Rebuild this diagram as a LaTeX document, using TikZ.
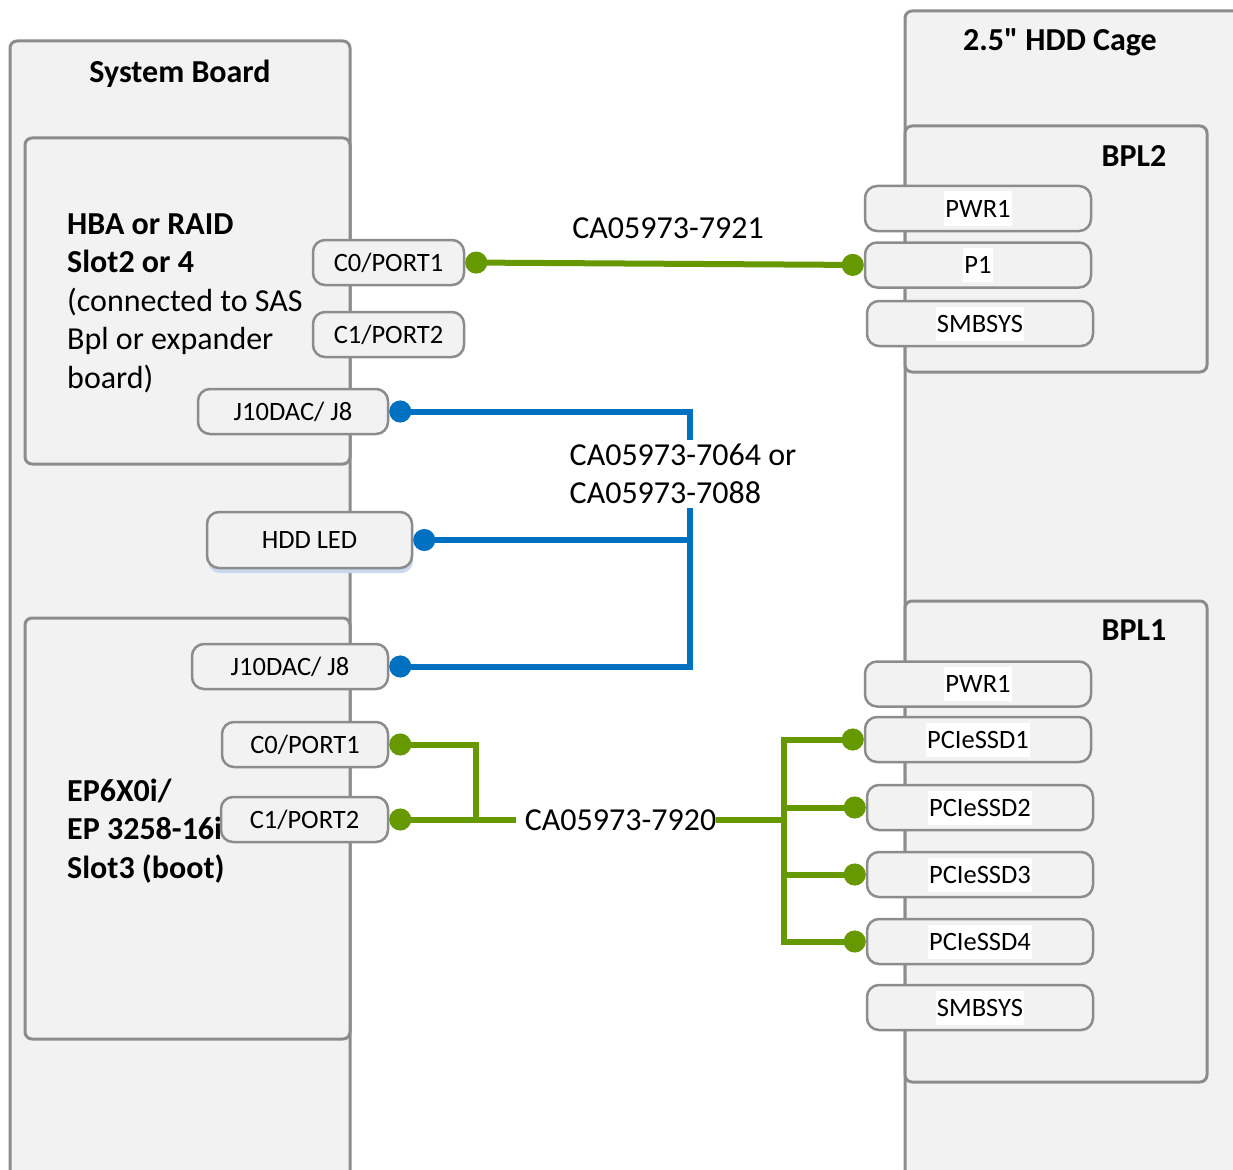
\documentclass[tikz,border=0pt]{standalone}
\usepackage{fontspec}
\newfontfamily\calibri{Carlito}
\usetikzlibrary{arrows.meta, positioning, shadows}

\definecolor{boxgray}{HTML}{F2F2F2}
\definecolor{edgegray}{HTML}{8C8C8C}
\definecolor{cablegreen}{HTML}{669900}
\definecolor{cableblue}{HTML}{0070C0}
\definecolor{shadowblue}{HTML}{C9D8EC}

\newcommand{\bigtext}{\calibri\fontsize{32}{38.5}\selectfont}
\newcommand{\porttext}{\calibri\fontsize{26.5}{32}\selectfont}
\newcommand{\onwhite}[1]{{\setlength{\fboxsep}{1pt}\colorbox{white}{\rule[-7.5pt]{0pt}{32pt}#1}}}

\tikzstyle{board} = [draw=edgegray, fill=boxgray, line width=3pt, rounded corners=7pt, inner sep=0pt]
\tikzstyle{port} = [draw=edgegray, fill=boxgray, line width=2.5pt, rounded corners=12pt, minimum height=45pt, inner sep=0pt, font=\porttext]
\tikzstyle{heading} = [font=\bigtext\bfseries]
\tikzstyle{greencable} = [line width=6pt, draw=cablegreen]
\tikzstyle{bluecable} = [line width=6pt, draw=cableblue]
\tikzstyle{cabletag} = [font=\bigtext, fill=white, inner sep=2pt]

\begin{document}
\begin{tikzpicture}[x=1pt, y=-1pt, >={Circle[length=22pt]}]
    \useasboundingbox (0,0) rectangle (1233,1169);

    % boards
    \node[board, minimum width=340pt, minimum height=1159pt] (sysboard) at (180,620.5) {};
    \node[board, minimum width=325pt, minimum height=326pt] (hba) at (187.5,301) {};
    \node[board, minimum width=325pt, minimum height=421pt] (ep) at (187.5,828.5) {};
    \node[board, minimum width=355pt, minimum height=1189pt] (cage) at (1082.5,605.5) {};
    \node[board, minimum width=302pt, minimum height=246pt] (bpl2) at (1056,249) {};
    \node[board, minimum width=302pt, minimum height=481pt] (bpl1) at (1056,841.5) {};

    \node[heading] (sysname) at (180,74) {System Board};
    \node[heading] (cagename) at (1060,42) {2.5" HDD Cage};
    \node[heading] (bpl2name) at (1134,156) {BPL2};
    \node[heading] (bpl1name) at (1134,630) {BPL1};
    \node[font=\bigtext, align=left, anchor=west, inner sep=0pt] (hbatext) at (67,303) {\textbf{HBA or RAID}\\\textbf{Slot2 or 4}\\(connected to SAS\\Bpl or expander\\board)};
    \node[font=\bigtext\bfseries, align=left, anchor=west, inner sep=0pt] (eptext) at (67,831) {EP6X0i/\\EP 3258-16i\\Slot3 (boot)};

    % connectors on the system board
    \node[port, minimum width=151pt] (hbac0) at (388.5,262.5) {C0/PORT1};
    \node[port, minimum width=151pt] (hbac1) at (388.5,334.5) {C1/PORT2};
    \node[port, minimum width=190pt] (hbaj8) at (293,411.5) {J10DAC/ J8};
    \node[port, minimum width=205pt, minimum height=56pt, drop shadow={shadow xshift=1pt, shadow yshift=-5pt, fill=shadowblue, opacity=1}] (hddled) at (309.5,540) {HDD LED};
    \node[port, minimum width=196pt] (epj8) at (290,666.5) {J10DAC/ J8};
    \node[port, minimum width=166pt] (epc0) at (305,744.5) {C0/PORT1};
    \node[port, minimum width=167pt] (epc1) at (304.5,819.5) {C1/PORT2};

    % connectors on the backplanes
    \node[port, minimum width=226pt] (b2pwr) at (978,208.5) {\onwhite{PWR1}};
    \node[port, minimum width=226pt] (b2p1) at (978,265) {\onwhite{P1}};
    \node[port, minimum width=226pt] (b2smb) at (980,323.5) {\onwhite{SMBSYS}};
    \node[port, minimum width=226pt] (b1pwr) at (978,684) {\onwhite{PWR1}};
    \node[port, minimum width=226pt] (ssd1) at (978,739.5) {\onwhite{PCIeSSD1}};
    \node[port, minimum width=226pt] (ssd2) at (980,807.5) {\onwhite{PCIeSSD2}};
    \node[port, minimum width=226pt] (ssd3) at (980,874.5) {\onwhite{PCIeSSD3}};
    \node[port, minimum width=226pt] (ssd4) at (980,941.5) {\onwhite{PCIeSSD4}};
    \node[port, minimum width=226pt] (b1smb) at (980,1007.5) {\onwhite{SMBSYS}};

    % cables
    \coordinate (bturn) at (690,666.5);
    \coordinate (gjoin) at (476,819.5);
    \coordinate (gsplit) at (784,819.5);

    \draw[greencable, <->] (hbac0.east) -- (b2p1.west);
    \node[font=\bigtext] (tag7921) at (668,228) {CA05973-7921};

    \draw[bluecable, <->] (hbaj8.east) -| (bturn) -- (epj8.east);
    \draw[bluecable, <-] (hddled.east) -- (hddled.east -| bturn);
    \node[cabletag, align=left, inner ysep=4pt] (tag7064) at (683,474) {CA05973-7064 or\\CA05973-7088};

    \node[font=\bigtext, inner sep=0pt] (tag7920) at (620.5,820) {CA05973-7920};
    \draw[greencable, <-] (epc0.east) -| (gjoin);
    \draw[greencable, <-] (epc1.east) -- ([xshift=-9pt]tag7920.west |- epc1.east);
    \draw[greencable] (tag7920.east |- gsplit) -- (gsplit);
    \draw[greencable, <->] (ssd1.west) -| (gsplit) |- (ssd4.west);
    \draw[greencable, ->] (gsplit |- ssd2.west) -- (ssd2.west);
    \draw[greencable, ->] (gsplit |- ssd3.west) -- (ssd3.west);
\end{tikzpicture}
\end{document}
